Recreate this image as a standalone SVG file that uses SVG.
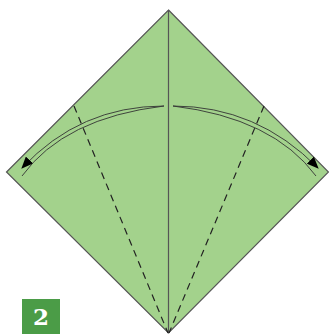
<svg xmlns="http://www.w3.org/2000/svg" width="329" height="335" viewBox="0 0 329 335">
<style>
.edge{fill:none;stroke:#555;stroke-width:1.2}
.crease{fill:none;stroke:#222;stroke-width:1.2;stroke-dasharray:7,5}
.arc{fill:none;stroke:#333;stroke-width:0.9}
.lbl{font-family:"DejaVu Serif","Liberation Serif",serif;font-size:23px;fill:#fff;font-weight:bold}
</style>
<defs>
<marker id="ah" viewBox="0 0 12 10" refX="11" refY="5" markerWidth="12" markerHeight="10" markerUnits="userSpaceOnUse" orient="auto">
<path d="M0,0 L12,5 L0,10 Z" fill="#000"/>
</marker>
</defs>
<g id="paper">
<polygon points="168.5,10 328.5,172 168.5,333 6.5,172" fill="#a3d28c" stroke="#555" stroke-width="1.2"/>
<line x1="168.5" y1="10" x2="168.5" y2="333" class="edge"/>
</g>
<g id="connectors">
<line x1="74" y1="106" x2="168" y2="333" class="crease"/>
<line x1="264" y1="106" x2="169" y2="333" class="crease"/>
<path d="M164,106 Q80,106 22,168" class="arc" marker-end="url(#ah)"/>
<path d="M164,106 Q64,118 22,176" class="arc"/>
<path d="M173,106 Q257,106 318,168" class="arc" marker-end="url(#ah)"/>
<path d="M173,106 Q273,118 316,176" class="arc"/>
</g>
<g id="step">
<rect x="22" y="299" width="38" height="35" fill="#4b9c47"/>
<text x="41" y="325" text-anchor="middle" class="lbl">2</text>
</g>
</svg>
